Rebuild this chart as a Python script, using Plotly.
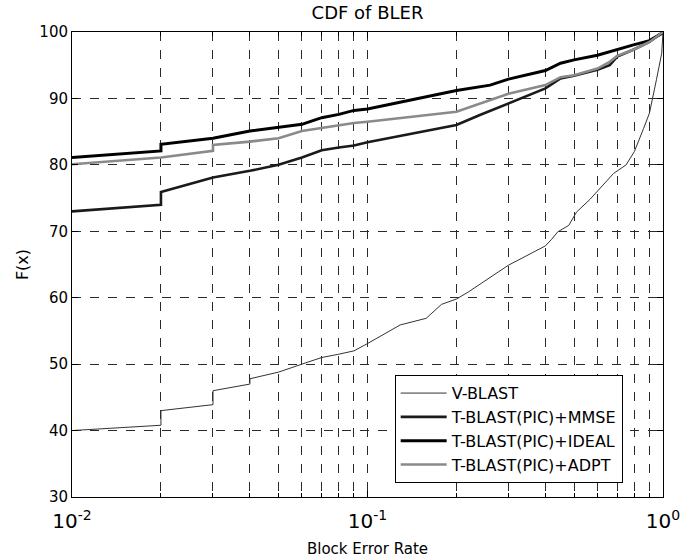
import plotly.graph_objects as go

# Block error rate samples (log axis) and CDF values in percent
vblast_x = [0.01, 0.02, 0.02, 0.03, 0.03, 0.04, 0.04, 0.05, 0.06, 0.07, 0.08, 0.09, 0.1,
            0.129, 0.158, 0.178, 0.2, 0.22, 0.3, 0.4, 0.42, 0.44, 0.48, 0.51, 0.566,
            0.68, 0.75, 0.8, 0.86, 0.9, 0.95, 0.98, 0.99, 1.0]
vblast_y = [40.0, 40.8, 43.0, 43.9, 46.0, 47.0, 47.8, 48.8, 50.0, 51.0, 51.5, 52.0, 53.1,
            55.9, 56.9, 59.0, 59.8, 60.9, 64.9, 67.8, 68.8, 69.9, 70.9, 72.9, 74.8,
            78.7, 80.0, 82.0, 85.5, 87.8, 92.8, 96.3, 96.8, 100.0]

mmse_x = [0.01, 0.02, 0.02, 0.03, 0.04, 0.05, 0.06, 0.07, 0.08, 0.09, 0.1,
          0.2, 0.24, 0.3, 0.4, 0.45, 0.5, 0.6, 0.66, 0.7, 0.8, 0.9, 1.0]
mmse_y = [73.0, 74.0, 75.9, 78.1, 79.1, 80.0, 81.1, 82.2, 82.6, 82.9, 83.4,
          86.0, 87.5, 89.3, 91.5, 93.0, 93.4, 94.3, 95.0, 96.3, 97.4, 98.5, 100.0]

ideal_x = [0.01, 0.02, 0.02, 0.03, 0.04, 0.05, 0.06, 0.07, 0.08, 0.09, 0.1,
           0.2, 0.26, 0.3, 0.4, 0.45, 0.5, 0.6, 0.7, 0.8, 0.9, 1.0]
ideal_y = [81.1, 82.1, 83.1, 84.0, 85.1, 85.6, 86.1, 87.1, 87.6, 88.2, 88.4,
           91.2, 92.0, 92.9, 94.2, 95.3, 95.8, 96.5, 97.4, 98.1, 98.7, 99.9]

adpt_x = [0.01, 0.02, 0.03, 0.03, 0.04, 0.05, 0.06, 0.07, 0.08, 0.09, 0.1,
          0.2, 0.3, 0.4, 0.45, 0.5, 0.6, 0.66, 0.7, 0.8, 0.9, 1.0]
adpt_y = [80.1, 81.1, 82.1, 83.0, 83.5, 84.0, 85.1, 85.6, 86.0, 86.3, 86.5,
          88.0, 90.7, 92.0, 93.2, 93.5, 94.5, 95.5, 96.4, 97.4, 98.5, 100.0]

x_major = [0.01, 0.1, 1.0]
x_major_text = ["10<sup>-2</sup>", "10<sup>-1</sup>", "10<sup>0</sup>"]
x_minor = [0.02, 0.03, 0.04, 0.05, 0.06, 0.07, 0.08, 0.09,
           0.2, 0.3, 0.4, 0.5, 0.6, 0.7, 0.8, 0.9]
y_ticks = [30, 40, 50, 60, 70, 80, 90, 100]

FONT = "DejaVu Sans, sans-serif"
GRID = "#2a2a2a"

fig = go.Figure()
fig.add_trace(go.Scatter(x=vblast_x, y=vblast_y, mode="lines", name="V-BLAST",
                         line=dict(color="#333333", width=1)))
fig.add_trace(go.Scatter(x=mmse_x, y=mmse_y, mode="lines", name="T-BLAST(PIC)+MMSE",
                         line=dict(color="#1a1a1a", width=2.6)))
fig.add_trace(go.Scatter(x=ideal_x, y=ideal_y, mode="lines", name="T-BLAST(PIC)+IDEAL",
                         line=dict(color="#000000", width=3)))
fig.add_trace(go.Scatter(x=adpt_x, y=adpt_y, mode="lines", name="T-BLAST(PIC)+ADPT",
                         line=dict(color="#8a8a8a", width=2.6)))

fig.update_layout(
    width=700, height=560,
    margin=dict(l=72, r=37, t=32, b=63),
    paper_bgcolor="white", plot_bgcolor="white",
    font=dict(family=FONT, size=15, color="black"),
    title=dict(text="CDF of BLER", x=0.5, xanchor="center", xref="paper",
               y=1 - 13 / 560, yanchor="middle", font=dict(size=18)),
    showlegend=True,
    legend=dict(x=0.546, y=0.262, xanchor="left", yanchor="top",
                bordercolor="black", borderwidth=1, bgcolor="white",
                font=dict(size=16), tracegroupgap=0, itemwidth=46),
)

fig.update_xaxes(
    type="log", range=[-2, 0], automargin=False,
    tickmode="array", tickvals=x_major, ticktext=x_major_text,
    ticks="inside", ticklen=6, tickcolor="black", ticklabelstandoff=6,
    showline=True, linecolor="black", linewidth=1, mirror="allticks",
    showgrid=True, gridcolor=GRID, griddash="dash", gridwidth=0.8,
    minor=dict(tickmode="array", tickvals=x_minor, ticks="inside", ticklen=4,
               tickcolor="black", showgrid=True, gridcolor=GRID,
               griddash="dash", gridwidth=0.8),
    tickfont=dict(size=20),
    title=dict(text="Block Error Rate", font=dict(size=15), standoff=11),
    zeroline=False,
)
fig.update_yaxes(
    range=[30, 100], automargin=False, tickmode="array", tickvals=y_ticks,
    ticks="inside", ticklen=6, tickcolor="black",
    showline=True, linecolor="black", linewidth=1, mirror="allticks",
    showgrid=True, gridcolor=GRID, griddash="dash", gridwidth=0.8,
    tickfont=dict(size=15),
    title=dict(text="F(x)", font=dict(size=16), standoff=6),
    zeroline=False,
)

fig.write_html("out.html")
